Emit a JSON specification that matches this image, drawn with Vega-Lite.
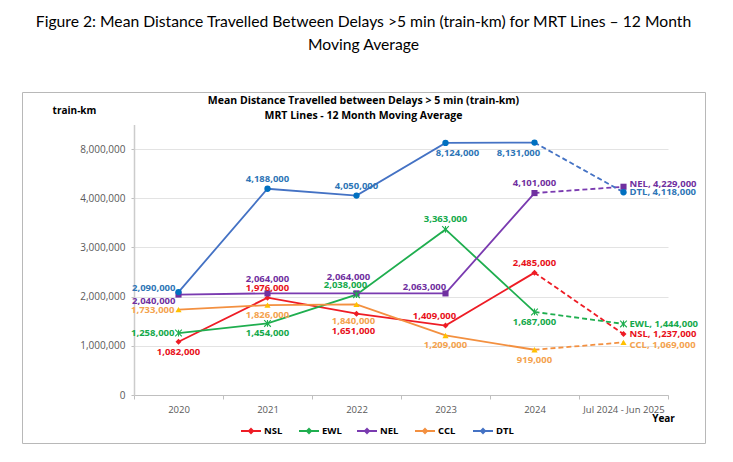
{
  "$schema": "https://vega.github.io/schema/vega-lite/v6.json",
  "width": 683,
  "height": 351,
  "autosize": {"type": "none"},
  "padding": {"left": 22, "top": 92, "right": 28, "bottom": 19},
  "background": "white",
  "view": {"stroke": "#b8b8b8", "strokeWidth": 1},
  "title": {
    "text": ["Figure 2: Mean Distance Travelled Between Delays >5 min (train-km) for MRT Lines – 12 Month", "Moving Average"],
    "subtitle": ["Mean Distance Travelled between Delays > 5 min (train-km)", "MRT Lines - 12 Month Moving Average"],
    "anchor": "middle",
    "frame": "group",
    "font": "Lato",
    "fontSize": 15.7,
    "fontWeight": "normal",
    "lineHeight": 23,
    "color": "#000000",
    "subtitleFont": "Open Sans",
    "subtitleFontSize": 10.5,
    "subtitleFontWeight": "bold",
    "subtitleLineHeight": 15,
    "subtitleColor": "#000000",
    "subtitlePadding": 42,
    "offset": -30
  },
  "data": {
    "values": [
      {"line": "NSL", "period": "2020", "value": 1082000},
      {"line": "NSL", "period": "2021", "value": 1976000},
      {"line": "NSL", "period": "2022", "value": 1651000},
      {"line": "NSL", "period": "2023", "value": 1409000},
      {"line": "NSL", "period": "2024", "value": 2485000},
      {"line": "NSL", "period": "Jul 2024 - Jun 2025", "value": 1237000},
      {"line": "EWL", "period": "2020", "value": 1258000},
      {"line": "EWL", "period": "2021", "value": 1454000},
      {"line": "EWL", "period": "2022", "value": 2038000},
      {"line": "EWL", "period": "2023", "value": 3363000},
      {"line": "EWL", "period": "2024", "value": 1687000},
      {"line": "EWL", "period": "Jul 2024 - Jun 2025", "value": 1444000},
      {"line": "NEL", "period": "2020", "value": 2040000},
      {"line": "NEL", "period": "2021", "value": 2064000},
      {"line": "NEL", "period": "2022", "value": 2064000},
      {"line": "NEL", "period": "2023", "value": 2063000},
      {"line": "NEL", "period": "2024", "value": 4101000},
      {"line": "NEL", "period": "Jul 2024 - Jun 2025", "value": 4229000},
      {"line": "CCL", "period": "2020", "value": 1733000},
      {"line": "CCL", "period": "2021", "value": 1826000},
      {"line": "CCL", "period": "2022", "value": 1840000},
      {"line": "CCL", "period": "2023", "value": 1209000},
      {"line": "CCL", "period": "2024", "value": 919000},
      {"line": "CCL", "period": "Jul 2024 - Jun 2025", "value": 1069000},
      {"line": "DTL", "period": "2020", "value": 2090000},
      {"line": "DTL", "period": "2021", "value": 4188000},
      {"line": "DTL", "period": "2022", "value": 4050000},
      {"line": "DTL", "period": "2023", "value": 8124000},
      {"line": "DTL", "period": "2024", "value": 8131000},
      {"line": "DTL", "period": "Jul 2024 - Jun 2025", "value": 4118000}
    ]
  },
  "encoding": {
    "x": {
      "field": "period",
      "type": "ordinal",
      "sort": ["2020", "2021", "2022", "2023", "2024", "Jul 2024 - Jun 2025"],
      "bandPosition": 0.5,
      "scale": {"type": "band", "range": [112, 646], "paddingInner": 0, "paddingOuter": 0},
      "axis": {
        "title": "Year",
        "titleX": 641,
        "titleY": 23,
        "titleAlign": "center",
        "titleBaseline": "middle",
        "titleFont": "Open Sans",
        "titleFontSize": 10,
        "titleFontWeight": "bold",
        "titleColor": "#000000",
        "labelAngle": 0,
        "labelFont": "Open Sans",
        "labelFontSize": 9.5,
        "labelColor": "#595959",
        "labelPadding": 5,
        "tickBand": "extent",
        "tickSize": 4,
        "tickColor": "#bfbfbf",
        "domainColor": "#bfbfbf",
        "offset": -48,
        "grid": false
      }
    },
    "y": {
      "field": "value",
      "type": "quantitative",
      "scale": {
        "type": "linear",
        "domain": [0, 4350000, 7450000, 8500000],
        "range": [303, 88.8, 84.1, 32.4],
        "nice": false,
        "zero": false
      },
      "axis": {
        "title": "train-km",
        "titleAngle": 0,
        "titleX": -60,
        "titleY": 18,
        "titleAlign": "center",
        "titleBaseline": "middle",
        "titleFont": "Open Sans",
        "titleFontSize": 10,
        "titleFontWeight": "bold",
        "titleColor": "#000000",
        "values": [0, 1000000, 2000000, 3000000, 4000000, 8000000],
        "format": ",.0f",
        "labelFont": "Open Sans",
        "labelFontSize": 10,
        "labelColor": "#595959",
        "labelPadding": 6,
        "tickSize": 3,
        "tickColor": "#bfbfbf",
        "domainColor": "#cccccc",
        "domainWidth": 1.5,
        "grid": true,
        "gridColor": "#e3e3e3",
        "offset": -112
      }
    }
  },
  "resolve": {"scale": {"fill": "independent"}},
  "layer": [
    {
      "transform": [{"filter": "datum.period != 'Jul 2024 - Jun 2025'"}],
      "mark": {"type": "line", "strokeWidth": 1.8},
      "encoding": {
        "color": {
          "field": "line",
          "type": "nominal",
          "scale": {
            "domain": ["NSL", "EWL", "NEL", "CCL", "DTL"],
            "range": ["#ee1c25", "#1fae4f", "#7a3bb0", "#f39040", "#4472c4"]
          },
          "legend": {
            "orient": "none",
            "legendX": 218,
            "legendY": 328,
            "direction": "horizontal",
            "title": null,
            "padding": 0,
            "symbolType": "M-1,0L1,0M0,-0.2L0.2,0L0,0.2L-0.2,0Z",
            "symbolSize": 400,
            "symbolStrokeWidth": 2,
            "labelFont": "Open Sans",
            "labelFontSize": 9.5,
            "labelFontWeight": "bold",
            "labelColor": "#000000",
            "labelOffset": 2,
            "columnPadding": 11,
            "gridAlign": "all",
            "encode": {"symbols": {"update": {"fill": {"scale": "color", "field": "value"}}}}
          }
        }
      }
    },
    {
      "transform": [{"filter": "datum.period == '2024' || datum.period == 'Jul 2024 - Jun 2025'"}],
      "mark": {"type": "line", "strokeWidth": 1.8, "strokeDash": [5, 3]},
      "encoding": {"color": {"field": "line", "type": "nominal"}}
    },
    {
      "transform": [{"filter": "datum.line != 'EWL'"}],
      "mark": {"type": "point", "filled": true, "opacity": 1, "strokeWidth": 0},
      "encoding": {
        "fill": {
          "field": "line",
          "type": "nominal",
          "scale": {"domain": ["NSL", "NEL", "CCL", "DTL"], "range": ["#ee1c25", "#7030a0", "#ffc000", "#0070c0"]},
          "legend": null
        },
        "shape": {
          "field": "line",
          "type": "nominal",
          "scale": {"domain": ["NSL", "NEL", "CCL", "DTL"], "range": ["diamond", "square", "triangle-up", "circle"]},
          "legend": null
        },
        "size": {
          "field": "line",
          "type": "nominal",
          "scale": {"domain": ["NSL", "NEL", "CCL", "DTL"], "range": [36, 40, 60, 55]},
          "legend": null
        }
      }
    },
    {
      "transform": [{"filter": "datum.line == 'EWL'"}],
      "mark": {
        "type": "point",
        "filled": false,
        "shape": "M-1,-1L1,1M-1,1L1,-1M0,-1L0,1",
        "size": 45,
        "stroke": "#1fae4f",
        "strokeWidth": 1.1,
        "opacity": 1
      }
    },
    {
      "transform": [{"filter": "indexof(['DTL|2021','NSL|2021','DTL|2022','EWL|2023','NEL|2024','NSL|2024'], datum.line + '|' + datum.period) >= 0"}],
      "mark": {"type": "text", "dy": -10, "align": "center", "baseline": "middle", "font": "Open Sans", "fontSize": 9.5, "fontWeight": "bold"},
      "encoding": {
        "text": {"field": "value", "type": "quantitative", "format": ",.0f"},
        "fill": {"field": "line", "type": "nominal", "scale": {"domain": ["NSL", "EWL", "NEL", "CCL", "DTL"], "range": ["#e8101a", "#14a94b", "#7030a0", "#f4a24e", "#2e75b6"]}, "legend": null}
      }
    },
    {
      "transform": [{"filter": "indexof(['CCL|2021','EWL|2021','CCL|2023','EWL|2024','CCL|2024','NSL|2020'], datum.line + '|' + datum.period) >= 0"}],
      "mark": {"type": "text", "dy": 10, "align": "center", "baseline": "middle", "font": "Open Sans", "fontSize": 9.5, "fontWeight": "bold"},
      "encoding": {
        "text": {"field": "value", "type": "quantitative", "format": ",.0f"},
        "fill": {"field": "line", "type": "nominal", "scale": {"domain": ["NSL", "EWL", "NEL", "CCL", "DTL"], "range": ["#e8101a", "#14a94b", "#7030a0", "#f4a24e", "#2e75b6"]}, "legend": null}
      }
    },
    {
      "transform": [{"filter": "datum.line == 'NEL' && datum.period == '2021'"}],
      "mark": {"type": "text", "dy": -14, "align": "center", "baseline": "middle", "font": "Open Sans", "fontSize": 9.5, "fontWeight": "bold"},
      "encoding": {
        "text": {"field": "value", "type": "quantitative", "format": ",.0f"},
        "fill": {"field": "line", "type": "nominal", "scale": {"domain": ["NSL", "EWL", "NEL", "CCL", "DTL"], "range": ["#e8101a", "#14a94b", "#7030a0", "#f4a24e", "#2e75b6"]}, "legend": null}
      }
    },
    {
      "transform": [{"filter": "datum.line == 'NEL' && datum.period == '2022'"}],
      "mark": {"type": "text", "dx": -8, "dy": -16, "align": "center", "baseline": "middle", "font": "Open Sans", "fontSize": 9.5, "fontWeight": "bold"},
      "encoding": {
        "text": {"field": "value", "type": "quantitative", "format": ",.0f"},
        "fill": {"field": "line", "type": "nominal", "scale": {"domain": ["NSL", "EWL", "NEL", "CCL", "DTL"], "range": ["#e8101a", "#14a94b", "#7030a0", "#f4a24e", "#2e75b6"]}, "legend": null}
      }
    },
    {
      "transform": [{"filter": "indexof(['EWL|2022','NSL|2023'], datum.line + '|' + datum.period) >= 0"}],
      "mark": {"type": "text", "dx": -11, "dy": -10, "align": "center", "baseline": "middle", "font": "Open Sans", "fontSize": 9.5, "fontWeight": "bold"},
      "encoding": {
        "text": {"field": "value", "type": "quantitative", "format": ",.0f"},
        "fill": {"field": "line", "type": "nominal", "scale": {"domain": ["NSL", "EWL", "NEL", "CCL", "DTL"], "range": ["#e8101a", "#14a94b", "#7030a0", "#f4a24e", "#2e75b6"]}, "legend": null}
      }
    },
    {
      "transform": [{"filter": "indexof(['CCL|2022','NSL|2022'], datum.line + '|' + datum.period) >= 0"}],
      "mark": {"type": "text", "dx": -3, "dy": 17, "align": "center", "baseline": "middle", "font": "Open Sans", "fontSize": 9.5, "fontWeight": "bold"},
      "encoding": {
        "text": {"field": "value", "type": "quantitative", "format": ",.0f"},
        "fill": {"field": "line", "type": "nominal", "scale": {"domain": ["NSL", "EWL", "NEL", "CCL", "DTL"], "range": ["#e8101a", "#14a94b", "#7030a0", "#f4a24e", "#2e75b6"]}, "legend": null}
      }
    },
    {
      "transform": [{"filter": "datum.line == 'NEL' && datum.period == '2023'"}],
      "mark": {"type": "text", "dx": -21, "dy": -6, "align": "center", "baseline": "middle", "font": "Open Sans", "fontSize": 9.5, "fontWeight": "bold"},
      "encoding": {
        "text": {"field": "value", "type": "quantitative", "format": ",.0f"},
        "fill": {"field": "line", "type": "nominal", "scale": {"domain": ["NSL", "EWL", "NEL", "CCL", "DTL"], "range": ["#e8101a", "#14a94b", "#7030a0", "#f4a24e", "#2e75b6"]}, "legend": null}
      }
    },
    {
      "transform": [{"filter": "datum.line == 'DTL' && datum.period == '2023'"}],
      "mark": {"type": "text", "dx": 12, "dy": 10, "align": "center", "baseline": "middle", "font": "Open Sans", "fontSize": 9.5, "fontWeight": "bold"},
      "encoding": {
        "text": {"field": "value", "type": "quantitative", "format": ",.0f"},
        "fill": {"field": "line", "type": "nominal", "scale": {"domain": ["NSL", "EWL", "NEL", "CCL", "DTL"], "range": ["#e8101a", "#14a94b", "#7030a0", "#f4a24e", "#2e75b6"]}, "legend": null}
      }
    },
    {
      "transform": [{"filter": "datum.line == 'DTL' && datum.period == '2024'"}],
      "mark": {"type": "text", "dx": -16, "dy": 10, "align": "center", "baseline": "middle", "font": "Open Sans", "fontSize": 9.5, "fontWeight": "bold"},
      "encoding": {
        "text": {"field": "value", "type": "quantitative", "format": ",.0f"},
        "fill": {"field": "line", "type": "nominal", "scale": {"domain": ["NSL", "EWL", "NEL", "CCL", "DTL"], "range": ["#e8101a", "#14a94b", "#7030a0", "#f4a24e", "#2e75b6"]}, "legend": null}
      }
    },
    {
      "transform": [{"filter": "datum.line == 'DTL' && datum.period == '2020'"}],
      "mark": {"type": "text", "dx": -3, "dy": -4, "align": "right", "baseline": "middle", "font": "Open Sans", "fontSize": 9.5, "fontWeight": "bold"},
      "encoding": {
        "text": {"field": "value", "type": "quantitative", "format": ",.0f"},
        "fill": {"field": "line", "type": "nominal", "scale": {"domain": ["NSL", "EWL", "NEL", "CCL", "DTL"], "range": ["#e8101a", "#14a94b", "#7030a0", "#f4a24e", "#2e75b6"]}, "legend": null}
      }
    },
    {
      "transform": [{"filter": "datum.line == 'NEL' && datum.period == '2020'"}],
      "mark": {"type": "text", "dx": -3, "dy": 6, "align": "right", "baseline": "middle", "font": "Open Sans", "fontSize": 9.5, "fontWeight": "bold"},
      "encoding": {
        "text": {"field": "value", "type": "quantitative", "format": ",.0f"},
        "fill": {"field": "line", "type": "nominal", "scale": {"domain": ["NSL", "EWL", "NEL", "CCL", "DTL"], "range": ["#e8101a", "#14a94b", "#7030a0", "#f4a24e", "#2e75b6"]}, "legend": null}
      }
    },
    {
      "transform": [{"filter": "indexof(['CCL|2020','EWL|2020'], datum.line + '|' + datum.period) >= 0"}],
      "mark": {"type": "text", "dx": -4, "dy": 0, "align": "right", "baseline": "middle", "font": "Open Sans", "fontSize": 9.5, "fontWeight": "bold"},
      "encoding": {
        "text": {"field": "value", "type": "quantitative", "format": ",.0f"},
        "fill": {"field": "line", "type": "nominal", "scale": {"domain": ["NSL", "EWL", "NEL", "CCL", "DTL"], "range": ["#e8101a", "#14a94b", "#7030a0", "#f4a24e", "#2e75b6"]}, "legend": null}
      }
    },
    {
      "transform": [
        {"filter": "datum.period == 'Jul 2024 - Jun 2025' && indexof(['EWL','NSL','DTL'], datum.line) >= 0"},
        {"calculate": "datum.line + ', ' + format(datum.value, ',')", "as": "endLabel"}
      ],
      "mark": {"type": "text", "dx": 6, "dy": 0, "align": "left", "baseline": "middle", "font": "Open Sans", "fontSize": 9.5, "fontWeight": "bold"},
      "encoding": {
        "text": {"field": "endLabel", "type": "nominal"},
        "fill": {"field": "line", "type": "nominal", "scale": {"domain": ["NSL", "EWL", "NEL", "CCL", "DTL"], "range": ["#e8101a", "#14a94b", "#7030a0", "#f4a24e", "#2e75b6"]}, "legend": null}
      }
    },
    {
      "transform": [
        {"filter": "datum.period == 'Jul 2024 - Jun 2025' && datum.line == 'NEL'"},
        {"calculate": "datum.line + ', ' + format(datum.value, ',')", "as": "endLabel"}
      ],
      "mark": {"type": "text", "dx": 6, "dy": -3, "align": "left", "baseline": "middle", "font": "Open Sans", "fontSize": 9.5, "fontWeight": "bold"},
      "encoding": {
        "text": {"field": "endLabel", "type": "nominal"},
        "fill": {"field": "line", "type": "nominal", "scale": {"domain": ["NSL", "EWL", "NEL", "CCL", "DTL"], "range": ["#e8101a", "#14a94b", "#7030a0", "#f4a24e", "#2e75b6"]}, "legend": null}
      }
    },
    {
      "transform": [
        {"filter": "datum.period == 'Jul 2024 - Jun 2025' && datum.line == 'CCL'"},
        {"calculate": "datum.line + ', ' + format(datum.value, ',')", "as": "endLabel"}
      ],
      "mark": {"type": "text", "dx": 6, "dy": 3, "align": "left", "baseline": "middle", "font": "Open Sans", "fontSize": 9.5, "fontWeight": "bold"},
      "encoding": {
        "text": {"field": "endLabel", "type": "nominal"},
        "fill": {"field": "line", "type": "nominal", "scale": {"domain": ["NSL", "EWL", "NEL", "CCL", "DTL"], "range": ["#e8101a", "#14a94b", "#7030a0", "#f4a24e", "#2e75b6"]}, "legend": null}
      }
    }
  ]
}
